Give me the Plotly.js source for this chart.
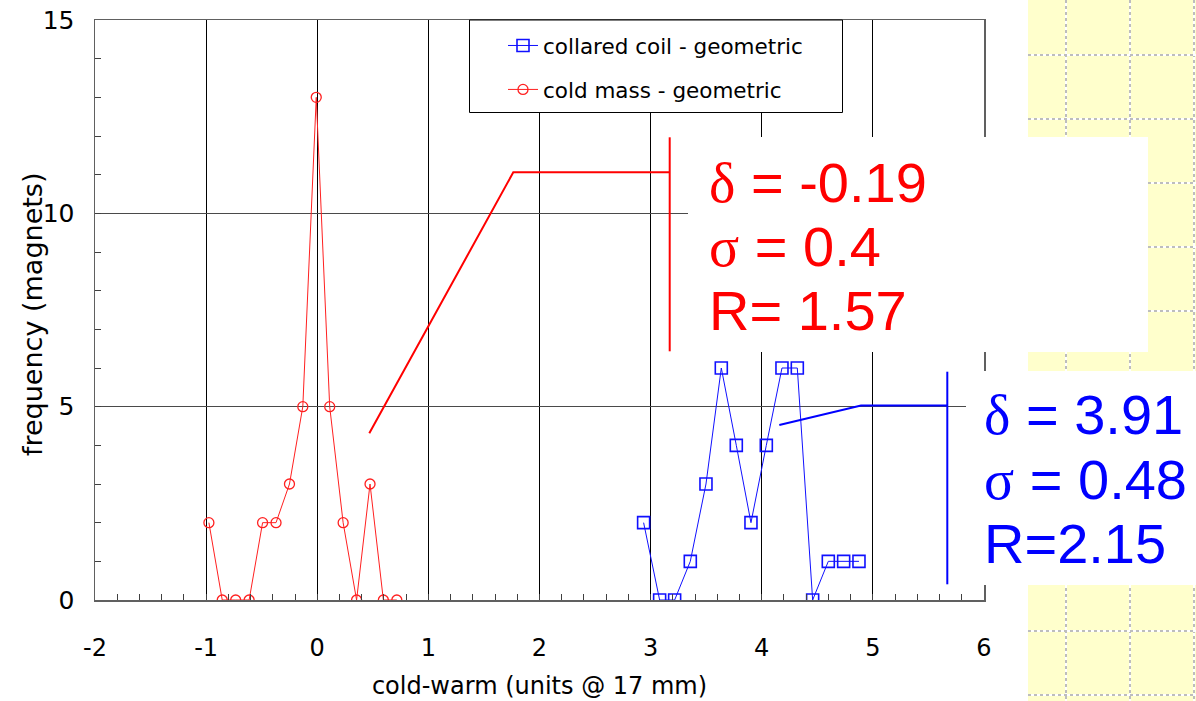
<!DOCTYPE html>
<html>
<head>
<meta charset="utf-8">
<script src="https://cdn.plot.ly/plotly-3.0.1.min.js"></script>
<style>html,body{margin:0;padding:0;background:#fff;}#chart{width:1196px;height:701px;}</style>
</head>
<body>
<div id="chart"></div>
<script>
// ---- data ----
const coldMassX = [-0.975, -0.855, -0.734, -0.613, -0.492, -0.371, -0.250, -0.130, -0.009, 0.112, 0.233, 0.354, 0.475, 0.595, 0.716];
const coldMassY = [2, 0, 0, 0, 2, 2, 3, 5, 13, 5, 2, 0, 3, 0, 0];
const collaredX = [2.937, 3.081, 3.216, 3.357, 3.498, 3.636, 3.771, 3.903, 4.041, 4.182, 4.320, 4.458, 4.599, 4.737, 4.875];
const collaredY = [2, 0, 0, 1, 3, 6, 4, 2, 4, 6, 6, 0, 1, 1, 1];
const seriesNames = ["collared coil - geometric", "cold mass - geometric"];
const xTickVals = [-2, -1, 0, 1, 2, 3, 4, 5, 6];
const xTickText = ["-2", "-1", "0", "1", "2", "3", "4", "5", "6"];
const yTickVals = [0, 5, 10, 15];
const yTickText = ["0", "5", "10", "15"];
const xTitle = "cold-warm (units @ 17 mm)";
const yTitle = "frequency (magnets)";
const redStats = ["δ = -0.19", "σ = 0.4", "R= 1.57"];
const blueStats = ["δ = 3.91", "σ = 0.48", "R=2.15"];

// ---- layout helpers (pixel -> paper) ----
const L = 95, R = 984, T = 20, B = 600;
const px = x => (x - L) / (R - L);
const py = y => (B - y) / (B - T);

const FONT = "DejaVu Sans, Verdana, sans-serif";

const traces = [
  {
    x: collaredX, y: collaredY, name: seriesNames[0], type: "scatter", mode: "lines+markers",
    line: {color: "#1010ff", width: 1},
    marker: {symbol: "square-open", size: 12, color: "#1010ff", line: {width: 1.6}},
    legendgroup: "a"
  },
  {
    x: coldMassX, y: coldMassY, name: seriesNames[1], type: "scatter", mode: "lines+markers",
    line: {color: "#ff2020", width: 1},
    marker: {symbol: "circle-open", size: 10, color: "#ff2020", line: {width: 1.3}},
    legendgroup: "b"
  }
];

const shapes = [];
// yellow decorative panel on the right
shapes.push({type: "rect", xref: "paper", yref: "paper", x0: px(1028), x1: px(1200), y0: py(706), y1: py(-5),
  fillcolor: "#ffffcc", line: {width: 0}, layer: "below"});
[1066, 1130, 1194].forEach(v => {
  shapes.push({type: "line", xref: "paper", yref: "paper", x0: px(v), x1: px(v), y0: py(0), y1: py(701), line: {color: "#ffffff", width: 2}, layer: "below"});
  shapes.push({type: "line", xref: "paper", yref: "paper", x0: px(v), x1: px(v), y0: py(0), y1: py(701), line: {color: "#a8a8a8", width: 1.5, dash: "dot"}, layer: "below"});
});
for (let h = 55; h < 701; h += 64) {
  shapes.push({type: "line", xref: "paper", yref: "paper", x0: px(1028), x1: px(1196), y0: py(h), y1: py(h), line: {color: "#ffffff", width: 2}, layer: "below"});
  shapes.push({type: "line", xref: "paper", yref: "paper", x0: px(1028), x1: px(1196), y0: py(h), y1: py(h), line: {color: "#a8a8a8", width: 1.5, dash: "dot"}, layer: "below"});
}
// white boxes behind the statistics text
shapes.push({type: "rect", xref: "paper", yref: "paper", x0: px(688), x1: px(1148), y0: py(352), y1: py(137),
  fillcolor: "#ffffff", line: {width: 0}, layer: "above"});
shapes.push({type: "rect", xref: "paper", yref: "paper", x0: px(966), x1: px(1200), y0: py(585), y1: py(371),
  fillcolor: "#ffffff", line: {width: 0}, layer: "above"});
// legend box
shapes.push({type: "rect", xref: "paper", yref: "paper", x0: px(469.5), x1: px(842.5), y0: py(112.5), y1: py(20),
  fillcolor: "#ffffff", line: {color: "#000000", width: 1}, layer: "above"});
// callout lines
shapes.push({type: "path", xref: "paper", yref: "paper",
  path: `M ${px(369.3)} ${py(433.3)} L ${px(513.3)} ${py(172.3)} L ${px(669.7)} ${py(172.3)}`,
  line: {color: "#ff0000", width: 2}, layer: "above"});
shapes.push({type: "line", xref: "paper", yref: "paper", x0: px(669.7), x1: px(669.7), y0: py(351.3), y1: py(137.3),
  line: {color: "#ff0000", width: 2}, layer: "above"});
shapes.push({type: "path", xref: "paper", yref: "paper",
  path: `M ${px(779.3)} ${py(425)} L ${px(861)} ${py(405.5)} L ${px(947.3)} ${py(405.5)}`,
  line: {color: "#0000ff", width: 2}, layer: "above"});
shapes.push({type: "line", xref: "paper", yref: "paper", x0: px(947.3), x1: px(947.3), y0: py(584.3), y1: py(371.7),
  line: {color: "#0000ff", width: 2}, layer: "above"});

const greek = s => s.replace(/^([δσ])/, '<span style="font-family:Liberation Serif">$1</span>');
const annotations = [];
const redCenters = [182, 246, 310];
const blueCenters = [414, 479, 543];
redStats.forEach((t, i) => annotations.push({xref: "paper", yref: "paper", x: px(707), y: py(redCenters[i]),
  xanchor: "left", yanchor: "middle", text: greek(t), showarrow: false,
  font: {family: "Liberation Sans, Arial, sans-serif", size: 56, color: "#ff0000"}}));
blueStats.forEach((t, i) => annotations.push({xref: "paper", yref: "paper", x: px(982), y: py(blueCenters[i]),
  xanchor: "left", yanchor: "middle", text: greek(t), showarrow: false,
  font: {family: "Liberation Sans, Arial, sans-serif", size: 56, color: "#0000ff"}}));
// y-axis title
annotations.push({xref: "paper", yref: "paper", x: px(32), y: py(315), xanchor: "center", yanchor: "middle",
  text: yTitle, textangle: -90, showarrow: false, font: {family: FONT, size: 27, color: "#000000"}});

const layout = {
  width: 1196, height: 701,
  margin: {l: L, r: 1196 - R, t: T, b: 701 - B, pad: 0},
  paper_bgcolor: "#ffffff", plot_bgcolor: "#ffffff",
  font: {family: FONT, size: 22, color: "#000000"},
  showlegend: true,
  legend: {x: px(503), y: py(25), xanchor: "left", yanchor: "top", bgcolor: "rgba(0,0,0,0)", borderwidth: 0,
    font: {family: FONT, size: 21.5, color: "#000000"}, traceorder: "grouped", tracegroupgap: 13},
  xaxis: {
    range: [-2, 6], tickmode: "array", tickvals: xTickVals, ticktext: xTickText,
    showgrid: true, gridcolor: "#000000", gridwidth: 1,
    zeroline: false, showline: true, linecolor: "#606060", linewidth: 1.5, mirror: true,
    ticks: "inside", ticklen: 6, tickcolor: "#404040",
    minor: {dtick: 0.2, tick0: 0, ticks: "inside", ticklen: 6, tickcolor: "#404040", showgrid: false},
    tickfont: {family: FONT, size: 24}, ticklabelstandoff: 26,
    title: {text: xTitle, font: {family: FONT, size: 24}, standoff: 16}
  },
  yaxis: {
    range: [0, 15], tickmode: "array", tickvals: yTickVals, ticktext: yTickText,
    showgrid: true, gridcolor: "#4a4a4a", gridwidth: 1.3,
    zeroline: false, showline: true, linecolor: "#606060", linewidth: 1.5, mirror: true,
    ticks: "inside", ticklen: 6, tickcolor: "#404040",
    minor: {dtick: 1, tick0: 0, ticks: "inside", ticklen: 6, tickcolor: "#404040", showgrid: false},
    tickfont: {family: FONT, size: 25}, ticklabelstandoff: 14
  },
  shapes: shapes,
  annotations: annotations
};

Plotly.newPlot("chart", traces, layout, {displayModeBar: false, staticPlot: true});
</script>
</body>
</html>
